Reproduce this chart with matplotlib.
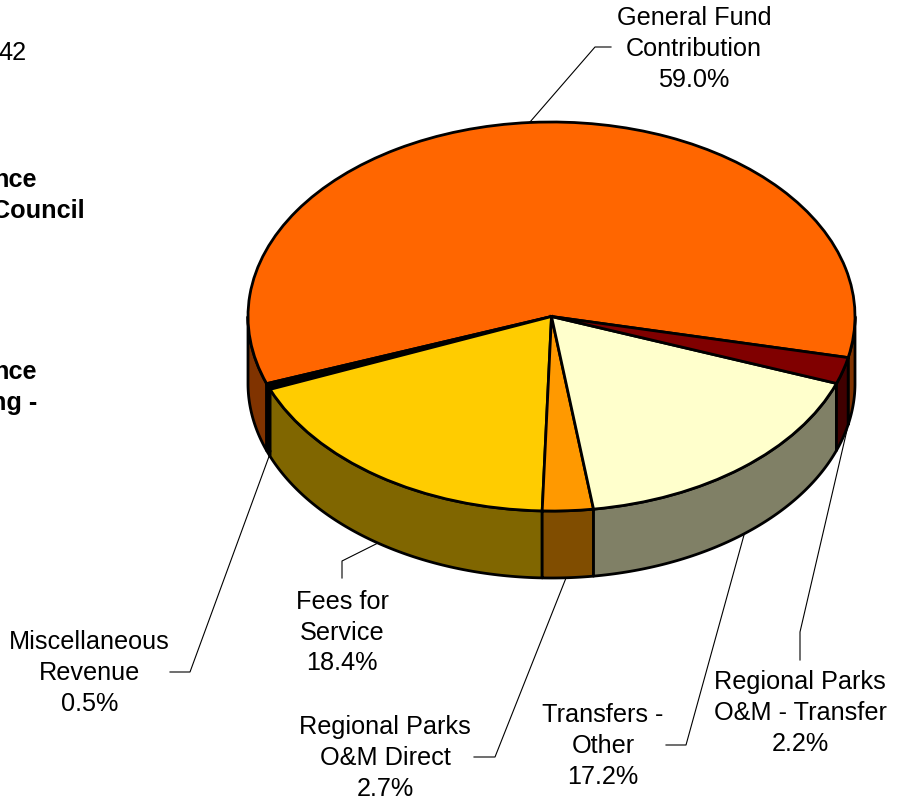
import numpy as np
import matplotlib
matplotlib.use("Agg")
import matplotlib.pyplot as plt

plt.rcParams['font.family'] = ['Liberation Sans', 'DejaVu Sans']

categories = ["General Fund\nContribution", "Miscellaneous\nRevenue", "Fees for\nService",
              "Regional Parks\nO&M Direct", "Transfers -\nOther", "Regional Parks\nO&M - Transfer"]
values = [59.0, 0.5, 18.4, 2.7, 17.2, 2.2]
top_colors = ["#FF6600", "#000000", "#FFCC00", "#FF9900", "#FFFFCC", "#800000"]
wall_colors = ["#803300", "#000000", "#806600", "#804D00", "#808066", "#400000"]
start_angle = -12.2

W, H = 903, 800
CX, CY, RX, RY, DEPTH = 551.5, 316.5, 303.5, 194.5, 67
LW = 2.0

fig = plt.figure(figsize=(W / 100, H / 100), dpi=100)
ax = fig.add_axes([(CX - RX) / W, 1 - (CY + RY) / H, 2 * RX / W, 2 * RY / H])

depth_u = DEPTH / RY
fracs = np.array(values) / sum(values)
edges = start_angle + 360 * np.concatenate([[0], np.cumsum(fracs)])

# walls: the part of each slice that lies on the front half of the rim
for a0, a1, col in zip(edges[:-1], edges[1:], wall_colors):
    for shift in (0, 360, -360):
        lo, hi = max(a0 + shift, 180), min(a1 + shift, 360)
        if hi <= lo:
            continue
        t = np.radians(np.linspace(lo, hi, 80))
        x = np.concatenate([np.cos(t), np.cos(t[::-1])])
        y = np.concatenate([np.sin(t), np.sin(t[::-1]) - depth_u])
        ax.fill(x, y, facecolor=col, edgecolor='black', lw=LW, joinstyle='round',
                clip_on=False, zorder=1)

wedges, _ = ax.pie(values, colors=top_colors, startangle=start_angle, radius=1,
                   counterclock=True,
                   wedgeprops=dict(edgecolor='black', linewidth=LW, clip_on=False, zorder=2))
ax.set_aspect('auto')
ax.set_xlim(-1, 1)
ax.set_ylim(-1, 1)
ax.axis('off')


def fx(px):
    return px / W


def fy(py):
    return 1 - py / H


FS = 18.15
label_pos = [(694, 49), (89.5, 673), (342, 632.5), (385, 758), (603, 746), (800, 713)]
for cat, val, (px, py) in zip(categories, values, label_pos):
    fig.text(fx(px), fy(py), f"{cat}\n{val:.1f}%", ha='center', va='center', fontsize=FS,
             linespacing=1.36, color='black', multialignment='center')

leaders = [
    [(530, 122), (595, 47), (611, 47)],
    [(271, 451), (190, 672), (170, 672)],
    [(378, 543), (342, 561), (342, 578)],
    [(566, 578), (495, 757), (474, 757)],
    [(744, 535), (686, 745), (666, 745)],
    [(847, 430), (800, 632), (800, 660)],
]
for pts in leaders:
    xs, ys = zip(*pts)
    fig.add_artist(plt.Line2D([fx(v) for v in xs], [fy(v) for v in ys], color='black', lw=0.8,
                              transform=fig.transFigure))

# text cut off at the left edge of the picture
for s, right, py, weight in [("42", 27, 53, 'normal'), ("nce", 37, 180, 'bold'),
                             ("Council", 85, 211, 'bold'), ("nce", 37, 372, 'bold'),
                             ("ng -", 37, 403, 'bold')]:
    fig.text(fx(right), fy(py), s, ha='right', va='center', fontsize=FS, fontweight=weight)

fig.savefig("out.png", dpi=100, facecolor='white')
